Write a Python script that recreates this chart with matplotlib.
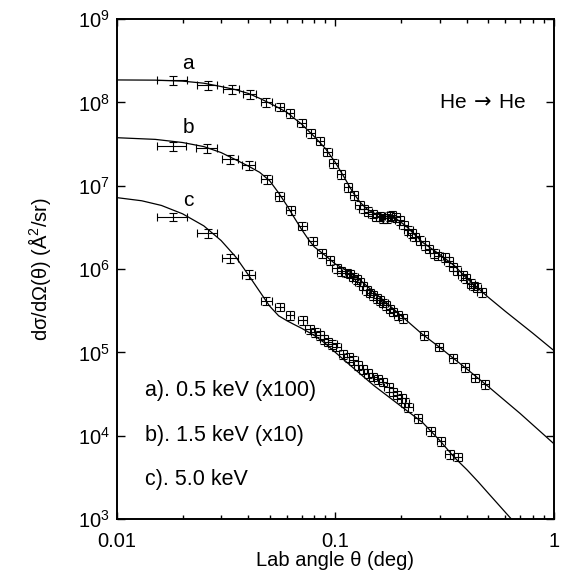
import matplotlib
matplotlib.use("Agg")
import matplotlib.pyplot as plt
import numpy as np
from matplotlib.ticker import LogLocator, NullLocator, NullFormatter

plt.rcParams['font.family'] = ['Liberation Sans', 'DejaVu Sans']
plt.rcParams['mathtext.fontset'] = 'custom'
plt.rcParams['mathtext.rm'] = 'Liberation Sans'

# measured points, a) 0.5 keV (x100)
xa = [0.0181, 0.026, 0.0335, 0.0406, 0.0484, 0.0557, 0.062, 0.070, 0.077, 0.085,
      0.092, 0.098, 0.106, 0.1146, 0.1216, 0.129, 0.135, 0.141, 0.148, 0.154,
      0.16, 0.166, 0.172, 0.177, 0.181, 0.19, 0.197, 0.205, 0.216, 0.223,
      0.231, 0.245, 0.257, 0.268, 0.284, 0.296, 0.317, 0.33, 0.345, 0.36,
      0.383, 0.395, 0.417, 0.43, 0.445, 0.467]
ya = [1.86e8, 1.6e8, 1.44e8, 1.25e8, 1.0e8, 8.9e7, 7.4e7, 5.7e7, 4.3e7, 3.47e7,
      2.55e7, 1.85e7, 1.38e7, 9.55e6, 7.7e6, 5.9e6, 5.3e6, 4.9e6, 4.6e6, 4.25e6,
      4.3e6, 4.1e6, 4.06e6, 4.3e6, 4.45e6, 4.2e6, 3.87e6, 3.4e6, 2.94e6, 2.7e6,
      2.44e6, 2.2e6, 1.94e6, 1.75e6, 1.54e6, 1.45e6, 1.38e6, 1.25e6, 1.07e6, 9.6e5,
      8.5e5, 7.8e5, 6.7e5, 6.3e5, 6.0e5, 5.3e5]

# b) 1.5 keV (x10)
xb = [0.018, 0.0259, 0.0331, 0.0403, 0.0487, 0.0555, 0.0625, 0.0707, 0.0787, 0.0865,
      0.0944, 0.1014, 0.106, 0.1126, 0.117, 0.121, 0.125, 0.129, 0.134, 0.139,
      0.144, 0.149, 0.155, 0.16, 0.166, 0.171, 0.178, 0.184, 0.194, 0.204,
      0.255, 0.298, 0.346, 0.392, 0.435, 0.483]
yb = [3.0e7, 2.8e7, 2.1e7, 1.75e7, 1.2e7, 7.45e6, 5.1e6, 3.3e6, 2.19e6, 1.54e6,
      1.28e6, 1.02e6, 9.4e5, 9.0e5, 8.8e5, 8.1e5, 7.6e5, 7.05e5, 6.3e5, 5.6e5,
      5.2e5, 4.87e5, 4.5e5, 4.25e5, 3.95e5, 3.7e5, 3.35e5, 3.07e5, 2.8e5, 2.56e5,
      1.6e5, 1.17e5, 8.5e4, 6.7e4, 4.96e4, 4.17e4]

# c) 5.0 keV
xc = [0.0181, 0.026, 0.0331, 0.0403, 0.0484, 0.0557, 0.062, 0.0708, 0.0764, 0.081,
      0.085, 0.089, 0.0927, 0.097, 0.101, 0.1087, 0.115, 0.121, 0.127, 0.134,
      0.141, 0.149, 0.157, 0.1656, 0.175, 0.184, 0.192, 0.201, 0.208, 0.216,
      0.239, 0.273, 0.304, 0.334, 0.362]
yc = [4.25e6, 2.68e6, 1.34e6, 8.6e5, 4.17e5, 3.53e5, 2.8e5, 2.44e5, 1.89e5, 1.75e5,
      1.6e5, 1.45e5, 1.34e5, 1.25e5, 1.17e5, 9.55e4, 8.8e4, 8.1e4, 7.0e4, 6.25e4,
      5.6e4, 5.1e4, 4.8e4, 4.45e4, 3.8e4, 3.37e4, 3.1e4, 2.8e4, 2.5e4, 2.19e4,
      1.62e4, 1.14e4, 8.6e3, 6.0e3, 5.6e3]

# calculated curves
ta = [0.01, 0.015, 0.02, 0.025, 0.03, 0.035, 0.04, 0.045, 0.05, 0.055, 0.06, 0.065,
      0.07, 0.075, 0.08, 0.09, 0.1, 0.11, 0.12, 0.13, 0.14, 0.15, 0.17, 0.19, 0.21,
      0.25, 0.3, 0.35, 0.4, 0.5, 0.6, 0.8, 1.0]
ca = [1.86e8, 1.85e8, 1.8e8, 1.7e8, 1.55e8, 1.42e8, 1.28e8, 1.12e8, 9.8e7, 8.6e7, 7.6e7, 6.4e7,
      5.5e7, 4.6e7, 3.9e7, 2.8e7, 1.9e7, 1.25e7, 8.4e6, 6.3e6, 5.2e6, 4.7e6, 4.3e6, 4.0e6, 3.3e6,
      2.1e6, 1.5e6, 1.1e6, 7.7e5, 4.6e5, 3.1e5, 1.7e5, 1.05e5]
tb = [0.01, 0.015, 0.02, 0.025, 0.03, 0.035, 0.04, 0.045, 0.05, 0.055, 0.06, 0.065,
      0.07, 0.075, 0.08, 0.09, 0.1, 0.12, 0.14, 0.17, 0.2, 0.25, 0.3, 0.4, 0.5, 0.7, 1.0]
cb = [3.77e7, 3.6e7, 3.3e7, 2.95e7, 2.5e7, 2.05e7, 1.72e7, 1.45e7, 1.15e7, 8.2e6, 5.8e6, 4.1e6,
      3.0e6, 2.3e6, 1.85e6, 1.45e6, 1.15e6, 8.8e5, 6.2e5, 4.0e5, 2.75e5, 1.65e5, 1.15e5, 6.3e4,
      3.9e4, 1.85e4, 8.0e3]
tc = [0.01, 0.013, 0.016, 0.02, 0.025, 0.03, 0.035, 0.04, 0.045, 0.05, 0.055, 0.06, 0.065,
      0.07, 0.08, 0.09, 0.1, 0.12, 0.15, 0.2, 0.25, 0.3, 0.35, 0.4, 0.45, 0.5, 0.55, 0.6,
      0.65, 0.7]
cc = [7.2e6, 6.6e6, 5.8e6, 4.6e6, 3.3e6, 2.2e6, 1.4e6, 8.5e5, 5.4e5, 3.6e5, 2.75e5, 2.4e5, 2.15e5,
      1.95e5, 1.6e5, 1.28e5, 1.0e5, 6.6e4, 4.0e4, 2.25e4, 1.45e4, 8.8e3, 5.5e3, 3.9e3, 2.8e3,
      2.05e3, 1.55e3, 1.2e3, 9.5e2, 7.5e2]

ang_res = 0.0028   # deg, angular resolution at small angles
rel_x = 0.045
rel_y = 0.12

fig = plt.figure(figsize=(5.67, 5.78), dpi=100)
ax = fig.add_axes([0.206, 0.102, 0.771, 0.865])

for t, c in [(ta, ca), (tb, cb), (tc, cc)]:
    ax.plot(t, c, color='black', lw=0.9)

for x, y in [(xa, ya), (xb, yb), (xc, yc)]:
    x = np.array(x)
    y = np.array(y)
    xerr = np.maximum(ang_res, rel_x * x)
    ax.errorbar(x, y, xerr=xerr, yerr=rel_y * y, fmt='none', ecolor='black',
                elinewidth=0.8, capsize=3, capthick=0.8)

ax.set_xscale('log')
ax.set_yscale('log')
ax.set_xlim(0.01, 1)
ax.set_ylim(1e3, 1e9)

ax.set_xticks([0.01, 0.1, 1], ['0.01', '0.1', '1'])
ax.xaxis.set_minor_locator(LogLocator(base=10, subs=np.arange(2, 10)))
ax.xaxis.set_minor_formatter(NullFormatter())
ax.set_yticks([1e3, 1e4, 1e5, 1e6, 1e7, 1e8, 1e9])
ax.yaxis.set_minor_locator(NullLocator())

ax.tick_params(which='both', direction='in', top=True, right=True, labelsize=14.5)
ax.tick_params(axis='x', which='major', length=5, width=1, pad=9)
ax.tick_params(axis='x', which='minor', length=3, width=1)
ax.tick_params(axis='y', which='major', length=6, width=1, pad=5)
for s in ax.spines.values():
    s.set_linewidth(1.4)

ax.set_xlabel('Lab angle θ (deg)', fontsize=14.5, labelpad=0)
ax.set_ylabel('dσ/dΩ(θ) (Å$^2$/sr)', fontsize=14.5, labelpad=18)

ax.text(0.0212, 2.9e8, 'a', fontsize=15, ha='center', va='center')
ax.text(0.0212, 5.0e7, 'b', fontsize=15, ha='center', va='center')
ax.text(0.0212, 6.7e6, 'c', fontsize=15, ha='center', va='center')
ax.text(0.472, 1e8, 'He$\\,\\rightarrow\\,$He', fontsize=15, ha='center', va='center',
        math_fontfamily='dejavusans')

ax.text(0.064, 0.258, 'a). 0.5 keV (x100)', transform=ax.transAxes, fontsize=15.5, va='center')
ax.text(0.064, 0.168, 'b). 1.5 keV (x10)', transform=ax.transAxes, fontsize=15.5, va='center')
ax.text(0.064, 0.080, 'c). 5.0 keV', transform=ax.transAxes, fontsize=15.5, va='center')

fig.savefig('out.png', dpi=100)
plt.close(fig)
